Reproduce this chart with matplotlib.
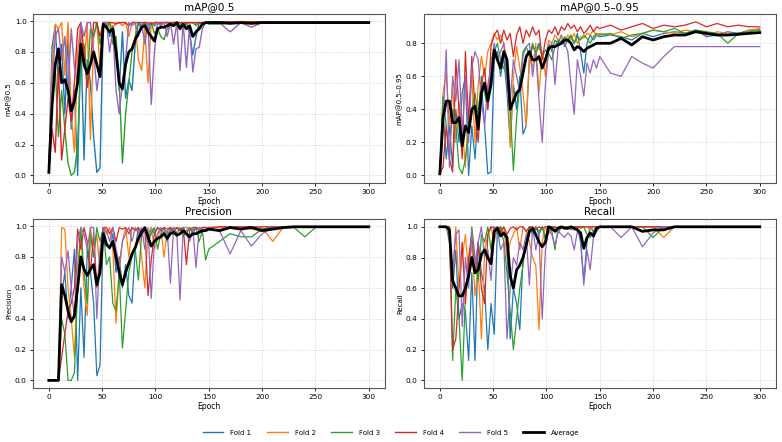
import matplotlib
matplotlib.use('Agg')
import matplotlib.pyplot as plt


epochs = [0, 3, 6, 9, 12, 15, 18, 21, 24, 27,
          30, 33, 36, 39, 42, 45, 48, 51, 54, 57,
          60, 63, 66, 69, 72, 75, 78, 81, 84, 87,
          90, 93, 96, 99, 102, 105, 108, 111, 114, 117,
          120, 123, 126, 129, 132, 135, 138, 141, 144, 147,
          150, 160, 170, 180, 190, 200, 210, 220, 230, 240,
          250, 260, 270, 280, 290, 300]

fold_names = ['Fold 1', 'Fold 2', 'Fold 3', 'Fold 4', 'Fold 5']
fold_colors = ['#1f77b4', '#ff7f0e', '#2ca02c', '#d62728', '#9467bd']

# ------------------------------------------------------------------------
#### mAP@0.5
map50_f1 = [0.02, 0.83, 0.97, 0.60, 0.85, 0.40, 0.90, 0.30, 0.55, 0.00,
            0.90, 0.10, 0.75, 0.60, 0.25, 0.02, 0.05, 0.98, 0.99, 0.90,
            0.97, 0.85, 0.55, 0.93, 0.50, 0.62, 0.55, 0.85, 0.99, 0.97,
            0.99, 0.92, 0.99, 0.97, 0.99, 0.98, 0.99, 0.99, 0.97, 0.99,
            0.99, 0.99, 0.96, 0.99, 0.92, 0.78, 0.90, 0.99, 0.99, 0.99,
            0.99, 0.995, 0.995, 0.995, 0.995, 0.995, 0.995, 0.995, 0.995, 0.995,
            0.995, 0.995, 0.995, 0.995, 0.995, 0.995]
map50_f2 = [0.02, 0.70, 0.98, 0.95, 0.99, 0.65, 0.99, 0.40, 0.15, 0.80,
            0.99, 0.70, 0.99, 0.23, 0.90, 0.99, 0.70, 0.99, 0.97, 0.99,
            0.95, 0.99, 0.99, 0.97, 0.99, 0.90, 0.99, 0.99, 0.75, 0.68,
            0.95, 0.60, 0.99, 0.98, 0.99, 0.97, 0.99, 0.99, 0.99, 0.98,
            0.99, 0.99, 0.97, 0.99, 0.99, 0.99, 0.98, 0.99, 0.99, 0.99,
            0.99, 0.995, 0.995, 0.995, 0.995, 0.995, 0.995, 0.995, 0.995, 0.995,
            0.995, 0.995, 0.995, 0.995, 0.995, 0.995]
map50_f3 = [0.02, 0.50, 0.70, 0.25, 0.55, 0.30, 0.08, 0.00, 0.02, 0.20,
            0.75, 0.85, 0.60, 0.95, 0.90, 0.99, 0.85, 0.99, 0.95, 0.99,
            0.85, 0.90, 0.60, 0.08, 0.40, 0.60, 0.80, 0.90, 0.99, 0.95,
            0.99, 0.97, 0.99, 0.92, 0.95, 0.90, 0.88, 0.95, 0.98, 0.99,
            0.99, 0.97, 0.99, 0.98, 0.99, 0.99, 0.97, 0.99, 0.98, 0.99,
            0.98, 0.98, 0.99, 0.985, 0.995, 0.995, 0.995, 0.995, 0.995, 0.995,
            0.995, 0.995, 0.995, 0.995, 0.995, 0.995]
map50_f4 = [0.02, 0.30, 0.15, 0.70, 0.10, 0.30, 0.50, 0.35, 0.60, 0.95,
            0.99, 0.80, 0.57, 0.72, 0.99, 0.99, 0.90, 0.99, 0.99, 0.99,
            0.99, 0.98, 0.99, 0.99, 0.99, 0.97, 0.99, 0.99, 0.99, 0.99,
            0.99, 0.99, 0.98, 0.99, 0.99, 0.99, 0.99, 0.99, 0.99, 0.99,
            0.99, 0.99, 0.99, 0.99, 0.99, 0.99, 0.99, 0.99, 0.99, 0.99,
            0.99, 0.995, 0.995, 0.995, 0.995, 0.995, 0.995, 0.995, 0.995, 0.995,
            0.995, 0.995, 0.995, 0.995, 0.995, 0.995]
map50_f5 = [0.02, 0.60, 0.90, 0.95, 0.75, 0.90, 0.55, 0.95, 0.70, 0.60,
            0.99, 0.90, 0.99, 0.99, 0.80, 0.55, 0.70, 0.99, 0.99, 0.80,
            0.95, 0.55, 0.40, 0.60, 0.75, 0.99, 0.97, 0.99, 0.90, 0.99,
            0.85, 0.99, 0.46, 0.80, 0.99, 0.97, 0.99, 0.90, 0.99, 0.85,
            0.99, 0.68, 0.99, 0.70, 0.97, 0.67, 0.82, 0.83, 0.95, 0.99,
            0.99, 0.99, 0.93, 0.99, 0.96, 0.99, 0.995, 0.995, 0.995, 0.995,
            0.995, 0.995, 0.995, 0.995, 0.995, 0.995]
map50_avg = [0.02, 0.45, 0.72, 0.82, 0.60, 0.62, 0.55, 0.42, 0.48, 0.60,
             0.85, 0.72, 0.66, 0.72, 0.80, 0.72, 0.64, 0.98, 0.96, 0.93,
             0.95, 0.80, 0.60, 0.56, 0.72, 0.80, 0.82, 0.88, 0.92, 0.96,
             0.97, 0.93, 0.90, 0.87, 0.95, 0.96, 0.96, 0.97, 0.98, 0.97,
             0.99, 0.95, 0.98, 0.95, 0.97, 0.90, 0.93, 0.95, 0.98, 0.99,
             0.99, 0.99, 0.985, 0.99, 0.985, 0.99, 0.99, 0.99, 0.99, 0.99,
             0.99, 0.99, 0.99, 0.99, 0.99, 0.99]

# ------------------------------------------------------------------------
#### mAP@0.5-0.95
map5095_f1 = [0.01, 0.40, 0.10, 0.30, 0.05, 0.40, 0.20, 0.50, 0.60, 0.00,
              0.30, 0.10, 0.40, 0.55, 0.30, 0.01, 0.02, 0.70, 0.75, 0.60,
              0.72, 0.50, 0.20, 0.55, 0.40, 0.60, 0.25, 0.30, 0.70, 0.78,
              0.75, 0.80, 0.72, 0.70, 0.80, 0.75, 0.82, 0.80, 0.85, 0.78,
              0.82, 0.84, 0.80, 0.86, 0.75, 0.62, 0.80, 0.85, 0.82, 0.85,
              0.84, 0.85, 0.84, 0.82, 0.86, 0.84, 0.86, 0.87, 0.86, 0.88,
              0.84, 0.85, 0.87, 0.86, 0.88, 0.88]
map5095_f2 = [0.01, 0.50, 0.62, 0.30, 0.55, 0.20, 0.45, 0.30, 0.05, 0.40,
              0.60, 0.20, 0.55, 0.72, 0.60, 0.75, 0.80, 0.86, 0.82, 0.85,
              0.80, 0.70, 0.17, 0.60, 0.78, 0.65, 0.50, 0.30, 0.72, 0.65,
              0.80, 0.50, 0.75, 0.60, 0.82, 0.80, 0.85, 0.82, 0.84, 0.80,
              0.85, 0.82, 0.86, 0.80, 0.84, 0.83, 0.86, 0.85, 0.88, 0.84,
              0.86, 0.85, 0.87, 0.84, 0.86, 0.88, 0.87, 0.86, 0.88, 0.87,
              0.85, 0.87, 0.86, 0.85, 0.88, 0.89]
map5095_f3 = [0.01, 0.48, 0.30, 0.12, 0.40, 0.30, 0.05, 0.01, 0.10, 0.25,
              0.40, 0.50, 0.35, 0.60, 0.50, 0.40, 0.70, 0.75, 0.80, 0.70,
              0.65, 0.60, 0.40, 0.03, 0.35, 0.55, 0.75, 0.78, 0.72, 0.80,
              0.74, 0.78, 0.72, 0.76, 0.74, 0.70, 0.78, 0.82, 0.80, 0.84,
              0.82, 0.85, 0.80, 0.84, 0.82, 0.85, 0.83, 0.80, 0.84, 0.86,
              0.85, 0.86, 0.83, 0.85, 0.86, 0.88, 0.87, 0.89, 0.86, 0.88,
              0.87, 0.86, 0.80, 0.86, 0.87, 0.88]
map5095_f4 = [0.01, 0.05, 0.30, 0.10, 0.02, 0.70, 0.40, 0.10, 0.75, 0.30,
              0.72, 0.40, 0.20, 0.55, 0.65, 0.40, 0.78, 0.85, 0.88, 0.80,
              0.88, 0.82, 0.86, 0.72, 0.85, 0.90, 0.80, 0.88, 0.84, 0.90,
              0.85, 0.88, 0.70, 0.82, 0.88, 0.86, 0.90, 0.85, 0.90, 0.88,
              0.92, 0.89, 0.91, 0.87, 0.90, 0.86, 0.88, 0.91, 0.87, 0.90,
              0.89, 0.91, 0.88, 0.90, 0.92, 0.89, 0.91, 0.90, 0.91, 0.93,
              0.90, 0.92, 0.90, 0.91, 0.90, 0.90]
map5095_f5 = [0.01, 0.30, 0.76, 0.05, 0.60, 0.45, 0.70, 0.25, 0.60, 0.20,
              0.65, 0.75, 0.70, 0.45, 0.30, 0.55, 0.65, 0.80, 0.70, 0.75,
              0.80, 0.55, 0.45, 0.70, 0.60, 0.50, 0.72, 0.78, 0.80, 0.60,
              0.75, 0.45, 0.20, 0.55, 0.75, 0.80, 0.55, 0.78, 0.82, 0.80,
              0.75, 0.55, 0.37, 0.70, 0.60, 0.48, 0.68, 0.62, 0.70, 0.65,
              0.72, 0.62, 0.60, 0.72, 0.68, 0.65, 0.72, 0.78, 0.78, 0.78,
              0.78, 0.78, 0.78, 0.78, 0.78, 0.78]
map5095_avg = [0.01, 0.35, 0.45, 0.45, 0.32, 0.32, 0.35, 0.18, 0.30, 0.26,
               0.40, 0.42, 0.28, 0.50, 0.56, 0.45, 0.55, 0.76, 0.70, 0.65,
               0.75, 0.70, 0.40, 0.45, 0.50, 0.52, 0.62, 0.72, 0.75, 0.70,
               0.70, 0.72, 0.65, 0.70, 0.77, 0.78, 0.78, 0.79, 0.80, 0.82,
               0.82, 0.80, 0.76, 0.78, 0.77, 0.75, 0.77, 0.78, 0.79, 0.80,
               0.80, 0.80, 0.83, 0.79, 0.84, 0.82, 0.84, 0.85, 0.85, 0.87,
               0.86, 0.85, 0.85, 0.855, 0.86, 0.865]

# ------------------------------------------------------------------------
#### Precision
prec_f1 = [0.0, 0.0, 0.0, 0.0, 0.55, 0.70, 0.40, 0.60, 0.85, 0.00,
           0.60, 0.15, 0.85, 0.70, 0.50, 0.03, 0.10, 0.99, 0.90, 0.85,
           0.95, 0.70, 0.80, 0.60, 0.75, 0.55, 0.50, 0.85, 0.99, 0.95,
           0.99, 0.90, 0.99, 0.95, 0.99, 0.97, 0.99, 0.93, 0.99, 0.97,
           0.99, 0.98, 0.99, 0.95, 0.99, 0.97, 0.99, 0.98, 0.99, 0.99,
           0.99, 0.99, 0.995, 0.99, 0.995, 0.98, 0.995, 0.995, 0.995, 0.995,
           0.995, 0.995, 0.995, 0.995, 0.995, 0.995]
prec_f2 = [0.0, 0.0, 0.0, 0.0, 0.99, 0.98, 0.60, 0.40, 0.15, 0.75,
           0.95, 0.60, 0.42, 0.99, 0.80, 0.95, 0.70, 0.99, 0.95, 0.99,
           0.85, 0.37, 0.70, 0.90, 0.99, 0.80, 0.99, 0.97, 0.99, 0.80,
           0.60, 0.95, 0.99, 0.85, 0.92, 0.99, 0.80, 0.97, 0.99, 0.98,
           0.99, 0.97, 0.99, 0.99, 0.98, 0.99, 0.99, 0.97, 0.99, 0.99,
           0.99, 0.99, 0.99, 0.99, 0.98, 0.99, 0.90, 0.995, 0.995, 0.995,
           0.995, 0.995, 0.995, 0.995, 0.995, 0.995]
prec_f3 = [0.0, 0.0, 0.0, 0.0, 0.40, 0.30, 0.00, 0.00, 0.05, 0.60,
           0.99, 0.70, 0.50, 0.95, 0.80, 0.99, 0.90, 0.99, 0.75, 0.80,
           0.50, 0.45, 0.70, 0.21, 0.45, 0.70, 0.80, 0.85, 0.65, 0.95,
           0.99, 0.90, 0.95, 0.99, 0.85, 0.95, 0.99, 0.90, 0.97, 0.99,
           0.95, 0.99, 0.93, 0.97, 0.99, 0.95, 0.99, 0.90, 0.97, 0.78,
           0.85, 0.90, 0.95, 0.93, 0.93, 0.98, 0.99, 0.99, 0.99, 0.93,
           0.99, 0.995, 0.995, 0.995, 0.995, 0.995]
prec_f4 = [0.0, 0.0, 0.0, 0.0, 0.15, 0.30, 0.45, 0.50, 0.60, 0.98,
           0.85, 0.99, 0.90, 0.70, 0.95, 0.60, 0.80, 0.99, 0.99, 0.95,
           0.99, 0.90, 0.99, 0.98, 0.99, 0.95, 0.99, 0.97, 0.99, 0.93,
           0.99, 0.55, 0.78, 0.95, 0.99, 0.97, 0.99, 0.98, 0.99, 0.95,
           0.99, 0.97, 0.99, 0.75, 0.97, 0.99, 0.99, 0.98, 0.99, 0.99,
           0.99, 0.995, 0.995, 0.995, 0.995, 0.995, 0.995, 0.995, 0.995, 0.995,
           0.995, 0.995, 0.995, 0.995, 0.995, 0.995]
prec_f5 = [0.0, 0.0, 0.0, 0.0, 0.80, 0.70, 0.84, 0.60, 0.40, 0.90,
           0.99, 0.95, 0.85, 0.99, 0.99, 0.40, 0.85, 0.99, 0.97, 0.90,
           0.99, 0.85, 0.75, 0.90, 0.95, 0.99, 0.90, 0.99, 0.95, 0.99,
           0.85, 0.99, 0.53, 0.90, 0.95, 0.99, 0.95, 0.97, 0.63, 0.99,
           0.95, 0.52, 0.99, 0.95, 0.90, 0.99, 0.73, 0.99, 0.97, 0.98,
           0.99, 0.97, 0.82, 0.97, 0.87, 0.95, 0.99, 0.995, 0.995, 0.995,
           0.995, 0.995, 0.995, 0.995, 0.995, 0.995]
prec_avg = [0.0, 0.0, 0.0, 0.0, 0.62, 0.55, 0.45, 0.38, 0.42, 0.60,
            0.80, 0.72, 0.68, 0.72, 0.75, 0.62, 0.70, 0.95, 0.88, 0.86,
            0.90, 0.80, 0.70, 0.62, 0.70, 0.76, 0.82, 0.86, 0.92, 0.96,
            0.99, 0.93, 0.87, 0.90, 0.92, 0.93, 0.95, 0.92, 0.95, 0.96,
            0.94, 0.95, 0.97, 0.95, 0.93, 0.95, 0.95, 0.96, 0.97, 0.97,
            0.98, 0.97, 0.99, 0.98, 0.99, 0.97, 0.98, 0.99, 0.995, 0.995,
            0.995, 0.995, 0.995, 0.995, 0.995, 0.995]

# ------------------------------------------------------------------------
#### Recall
rec_f1 = [1.0, 1.0, 1.0, 1.0, 0.60, 0.85, 0.40, 0.50, 0.45, 0.13,
          0.70, 0.13, 0.90, 0.70, 0.60, 0.20, 0.50, 0.30, 0.99, 1.0,
          0.95, 0.90, 0.27, 0.60, 0.50, 0.33, 0.80, 0.90, 1.0, 0.97,
          1.0, 0.95, 1.0, 0.92, 1.0, 0.98, 1.0, 0.96, 1.0, 0.99,
          1.0, 1.0, 0.98, 1.0, 0.90, 0.65, 0.90, 1.0, 0.97, 1.0,
          1.0, 1.0, 1.0, 1.0, 1.0, 1.0, 1.0, 1.0, 1.0, 1.0,
          1.0, 1.0, 1.0, 1.0, 1.0, 1.0]
rec_f2 = [1.0, 1.0, 1.0, 0.95, 0.70, 1.0, 0.60, 0.80, 0.95, 0.70,
          0.90, 0.55, 0.75, 0.27, 0.85, 0.95, 1.0, 0.90, 1.0, 0.95,
          1.0, 0.80, 0.90, 0.95, 1.0, 0.85, 1.0, 0.97, 0.90, 0.80,
          0.75, 0.33, 0.90, 1.0, 0.95, 1.0, 0.98, 1.0, 1.0, 0.99,
          1.0, 1.0, 1.0, 0.99, 1.0, 1.0, 1.0, 0.98, 1.0, 1.0,
          1.0, 1.0, 1.0, 1.0, 1.0, 1.0, 0.93, 1.0, 1.0, 1.0,
          1.0, 1.0, 1.0, 1.0, 1.0, 1.0]
rec_f3 = [1.0, 1.0, 1.0, 1.0, 0.13, 0.60, 0.40, 0.00, 0.55, 0.70,
          1.0, 0.80, 0.65, 0.95, 0.90, 1.0, 0.85, 1.0, 0.95, 1.0,
          0.90, 0.70, 0.45, 0.20, 0.40, 0.60, 0.75, 0.90, 1.0, 0.95,
          1.0, 0.97, 1.0, 0.93, 1.0, 0.97, 0.85, 1.0, 0.99, 1.0,
          1.0, 0.98, 1.0, 1.0, 0.99, 1.0, 0.95, 0.93, 0.97, 1.0,
          1.0, 1.0, 1.0, 1.0, 1.0, 0.93, 1.0, 1.0, 1.0, 1.0,
          1.0, 1.0, 1.0, 1.0, 1.0, 1.0]
rec_f4 = [1.0, 1.0, 1.0, 1.0, 0.20, 0.27, 0.60, 0.90, 0.50, 0.80,
          0.95, 0.70, 0.90, 0.60, 0.50, 0.95, 1.0, 0.99, 1.0, 0.97,
          1.0, 0.95, 0.99, 1.0, 0.98, 1.0, 1.0, 0.97, 1.0, 1.0,
          0.98, 1.0, 0.99, 1.0, 1.0, 1.0, 1.0, 0.99, 1.0, 1.0,
          1.0, 1.0, 1.0, 1.0, 1.0, 1.0, 1.0, 1.0, 1.0, 1.0,
          1.0, 1.0, 1.0, 1.0, 1.0, 1.0, 1.0, 1.0, 1.0, 1.0,
          1.0, 1.0, 1.0, 1.0, 1.0, 1.0]
rec_f5 = [1.0, 1.0, 1.0, 0.90, 0.70, 0.95, 0.98, 0.35, 0.80, 0.60,
          0.98, 0.75, 0.90, 1.0, 0.80, 0.85, 0.65, 1.0, 0.98, 0.85,
          0.90, 0.27, 0.60, 0.80, 0.75, 0.90, 0.85, 0.95, 0.62, 1.0,
          0.85, 0.95, 0.40, 0.85, 0.98, 0.95, 0.88, 0.97, 0.95, 0.93,
          0.96, 0.94, 0.85, 0.97, 0.93, 0.62, 0.85, 0.72, 0.93, 0.97,
          1.0, 1.0, 0.93, 1.0, 0.87, 0.96, 1.0, 1.0, 1.0, 1.0,
          1.0, 1.0, 1.0, 1.0, 1.0, 1.0]
rec_avg = [1.0, 1.0, 1.0, 0.98, 0.65, 0.60, 0.55, 0.55, 0.60, 0.68,
           0.80, 0.70, 0.72, 0.82, 0.85, 0.80, 0.76, 0.97, 0.99, 0.94,
           0.96, 0.93, 0.68, 0.60, 0.72, 0.75, 0.80, 0.88, 0.97, 0.99,
           0.95, 0.90, 0.87, 0.90, 1.0, 0.99, 0.97, 0.99, 1.0, 0.99,
           0.99, 1.0, 0.99, 0.98, 0.96, 0.86, 0.93, 0.96, 0.94, 0.99,
           1.0, 1.0, 1.0, 1.0, 0.97, 0.98, 0.98, 1.0, 1.0, 1.0,
           1.0, 1.0, 1.0, 1.0, 1.0, 1.0]


panels = [
    ('mAP@0.5', 'mAP@0.5',
     [map50_f1, map50_f2, map50_f3, map50_f4, map50_f5], map50_avg),
    ('mAP@0.5\u20130.95', 'mAP@0.5\u20130.95',
     [map5095_f1, map5095_f2, map5095_f3, map5095_f4, map5095_f5], map5095_avg),
    ('Precision', 'Precision',
     [prec_f1, prec_f2, prec_f3, prec_f4, prec_f5], prec_avg),
    ('Recall', 'Recall',
     [rec_f1, rec_f2, rec_f3, rec_f4, rec_f5], rec_avg),
]


fig, axs = plt.subplots(2, 2, figsize=(7.82, 4.42), dpi=100)
fig.subplots_adjust(left=0.042, right=0.992, top=0.968, bottom=0.122,
                    wspace=0.111, hspace=0.213)
axs = axs.ravel()

for ax, (title, ylab, folds, avg) in zip(axs, panels):
    for vals, name, col in zip(folds, fold_names, fold_colors):
        ax.plot(epochs, vals, color=col, linewidth=0.9, label=name)
    ax.plot(epochs, avg, color='black', linewidth=2.0, label='Average', zorder=5)

    ax.set_title(title, fontsize=7.5, pad=3)
    ax.set_xlabel('Epoch', fontsize=5.5, labelpad=1)
    ax.set_ylabel(ylab, fontsize=5, labelpad=2)
    ax.set_xticks([0, 50, 100, 150, 200, 250, 300])
    ax.tick_params(labelsize=5.3, length=2.5, width=0.6, pad=2)
    ax.grid(True, linestyle=':', linewidth=0.6, color='#c8c8c8')
    for sp in ax.spines.values():
        sp.set_color('#555555')
        sp.set_linewidth(0.8)

handles, labels = axs[0].get_legend_handles_labels()
for h in handles[:-1]:
    h.set_linewidth(1.0)
fig.legend(handles, labels, loc='lower center', bbox_to_anchor=(0.5, 0.0),
           ncol=6, frameon=False, fontsize=5, handlelength=3.0,
           columnspacing=2.2, handletextpad=1.0)

plt.savefig('out.png', dpi=100)
